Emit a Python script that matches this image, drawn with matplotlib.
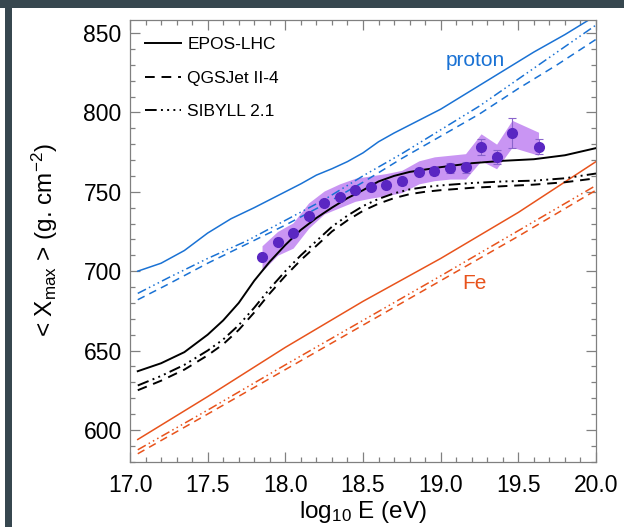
import matplotlib
matplotlib.use("Agg")
import matplotlib.pyplot as plt
from matplotlib.lines import Line2D
from matplotlib.patches import Rectangle
from matplotlib.ticker import MultipleLocator

plt.rcParams['font.family'] = ['Liberation Sans', 'DejaVu Sans']
plt.rcParams['mathtext.fontset'] = 'custom'
plt.rcParams['mathtext.rm'] = 'Liberation Sans'
plt.rcParams['mathtext.it'] = 'Liberation Sans'

# model predictions, log10(E/eV) vs <Xmax>
x_p_epos = [17.05, 17.2, 17.35, 17.5, 17.65, 17.8, 17.9, 18.0, 18.1, 18.2, 18.3, 18.4, 18.5,
            18.6, 18.7, 18.8, 18.9, 19.0, 19.1, 19.2, 19.3, 19.4, 19.5, 19.6, 19.7, 19.8, 19.9, 20.0]
y_p_epos = [700, 705, 713, 724, 733, 740, 745, 750, 755, 760.5, 764.5, 769, 774.5,
            781.5, 787, 792, 797, 802, 808, 814, 820, 826, 832, 838, 843.5, 849, 855, 861]
x_p_mod = [17.05, 17.25, 17.5, 17.75, 18.0, 18.25, 18.5, 18.75, 19.0, 19.25, 19.5, 19.75, 20.0]
y_p_qgs = [682, 692, 705, 717, 729, 742, 756, 771, 785, 799, 815, 830, 846]
y_p_sib = [686, 696, 708, 719, 732, 745, 760, 774, 789, 804, 821, 838, 855]

x_mix = [17.05, 17.2, 17.35, 17.5, 17.6, 17.7, 17.8, 17.9, 18.0, 18.1, 18.2, 18.3,
         18.4, 18.5, 18.6, 18.7, 18.8, 18.9, 19.0, 19.2, 19.4, 19.6, 19.8, 20.0]
y_mix_epos = [637, 642, 649, 660, 669, 680, 694, 706, 716.5, 726, 733.5, 740,
              746, 751, 756.5, 760, 762.5, 764, 765.5, 768, 769.5, 770.5, 773, 777.5]
y_mix_qgs = [625, 631, 638, 647, 654, 663, 674, 686, 697, 707, 716, 725,
             732, 738, 742.5, 746, 748.5, 750, 751, 752.5, 753.5, 754.5, 756, 758.5]
y_mix_sib = [628, 634, 641, 650, 657, 666, 677, 689, 700, 710, 719, 728,
             735, 741, 745.5, 749, 751.5, 753, 754, 755.5, 756.5, 757, 758.5, 761.5]

x_fe = [17.05, 17.5, 18.0, 18.5, 19.0, 19.5, 20.0]
y_fe_epos = [594, 621, 652, 681, 708, 737, 769]
y_fe_qgs = [585, 610, 638, 666, 694, 722, 751]
y_fe_sib = [587.5, 612.5, 641, 669, 697, 725.5, 754]

# measured points
x_data = [17.85, 17.95, 18.05, 18.15, 18.25, 18.35, 18.45, 18.55, 18.65,
          18.75, 18.86, 18.96, 19.06, 19.16, 19.26, 19.36, 19.46, 19.63]
y_data = [709, 718.5, 724, 735, 743, 747, 751, 753, 754.5,
          756.5, 762.5, 763, 765, 765.5, 778, 772, 787, 778.5]
y_stat = [1, 1, 1, 1, 1, 1, 1.5, 1.5, 1.5, 2, 2, 2.5, 3, 3.5, 5, 4.5, 9.5, 5]
y_sys_lo = [700, 710, 714.5, 727, 736, 740, 744, 746, 747.5,
            749.5, 755, 757, 758, 758, 769.5, 764.5, 778, 773]
y_sys_hi = [716, 725, 730.5, 743, 750.5, 755, 758.5, 760, 761.5,
            763.5, 769.5, 772, 773, 774, 786.5, 780, 795, 787.5]

blue = '#1a72d4'
orange = '#e8531c'
dashdot = (0, (6, 2.2, 1, 2.2, 1, 2.2, 1, 2.2))
dashed = (0, (5, 3.5))

fig = plt.figure(figsize=(6.24, 5.27), dpi=100, facecolor='#37474f')
W, H = 624, 527
fig.patches.append(Rectangle((12 / W, 0), 1, 1 - 8 / H, transform=fig.transFigure,
                             facecolor='white', edgecolor='none', zorder=-10))
fig.patches.append(Rectangle((0, 0), 5 / W, 1 - 8 / H, transform=fig.transFigure,
                             facecolor='white', edgecolor='none', zorder=-10))

ax = fig.add_axes([130 / W, 1 - 461.7 / H, 466 / W, 442.2 / H])
ax.set_facecolor('white')

ax.fill_between(x_data, y_sys_lo, y_sys_hi, color='#c995f3', lw=0, zorder=1)

ax.plot(x_p_epos, y_p_epos, color=blue, lw=1.1, zorder=2)
ax.plot(x_p_mod, y_p_qgs, color=blue, lw=1.1, ls=dashed, zorder=2)
ax.plot(x_p_mod, y_p_sib, color=blue, lw=1.1, ls=dashdot, zorder=2)

ax.plot(x_fe, y_fe_epos, color=orange, lw=1.1, zorder=2)
ax.plot(x_fe, y_fe_qgs, color=orange, lw=1.1, ls=dashed, zorder=2)
ax.plot(x_fe, y_fe_sib, color=orange, lw=1.1, ls=dashdot, zorder=2)

ax.plot(x_mix, y_mix_epos, color='black', lw=1.4, zorder=3)
ax.plot(x_mix, y_mix_qgs, color='black', lw=1.4, ls=dashed, zorder=3)
ax.plot(x_mix, y_mix_sib, color='black', lw=1.4, ls=dashdot, zorder=3)

ax.errorbar(x_data, y_data, yerr=y_stat, fmt='o', ms=7, color='#5a26c2',
            ecolor='#8a64cc', elinewidth=0.8, capsize=3, capthick=0.8, zorder=4)

ax.text(19.22, 832.5, 'proton', color=blue, fontsize=15, ha='center', va='center')
ax.text(19.215, 692, 'Fe', color=orange, fontsize=15, ha='center', va='center')

handles = [Line2D([], [], color='black', lw=1.4),
           Line2D([], [], color='black', lw=1.4, ls=dashed),
           Line2D([], [], color='black', lw=1.4, ls=dashdot)]
ax.legend(handles, ['EPOS-LHC', 'QGSJet II-4', 'SIBYLL 2.1'], loc='upper left',
          bbox_to_anchor=(0.017, 0.976), frameon=False, fontsize=12.5,
          handlelength=2.1, handletextpad=0.35, labelspacing=1.05, borderaxespad=0)

ax.set_xlim(17.0, 20.0)
ax.set_ylim(580, 858.5)
ax.xaxis.set_major_locator(MultipleLocator(0.5))
ax.xaxis.set_minor_locator(MultipleLocator(0.1))
ax.yaxis.set_major_locator(MultipleLocator(50))
ax.yaxis.set_minor_locator(MultipleLocator(10))
ax.xaxis.set_major_formatter(plt.FormatStrFormatter('%.1f'))
ax.tick_params(which='both', direction='in', top=True, right=True, color='#808080',
               labelsize=16.5)
ax.tick_params(which='major', length=7, width=0.9)
ax.tick_params(which='minor', length=3.8, width=0.9)
ax.tick_params(axis='x', pad=9)
ax.tick_params(axis='y', pad=6)
for s in ax.spines.values():
    s.set_color('#808080')
    s.set_linewidth(0.9)

ax.set_xlabel(r'log$_{10}$ E (eV)', fontsize=17.5)
ax.set_ylabel(r'< X$_{\rm max}$ > (g. cm$^{-2}$)', fontsize=17.5)
ax.xaxis.set_label_coords(0.5, -0.085)
ax.yaxis.set_label_coords(-0.15, 0.5)

fig.savefig('out.png', dpi=100, facecolor=fig.get_facecolor())
